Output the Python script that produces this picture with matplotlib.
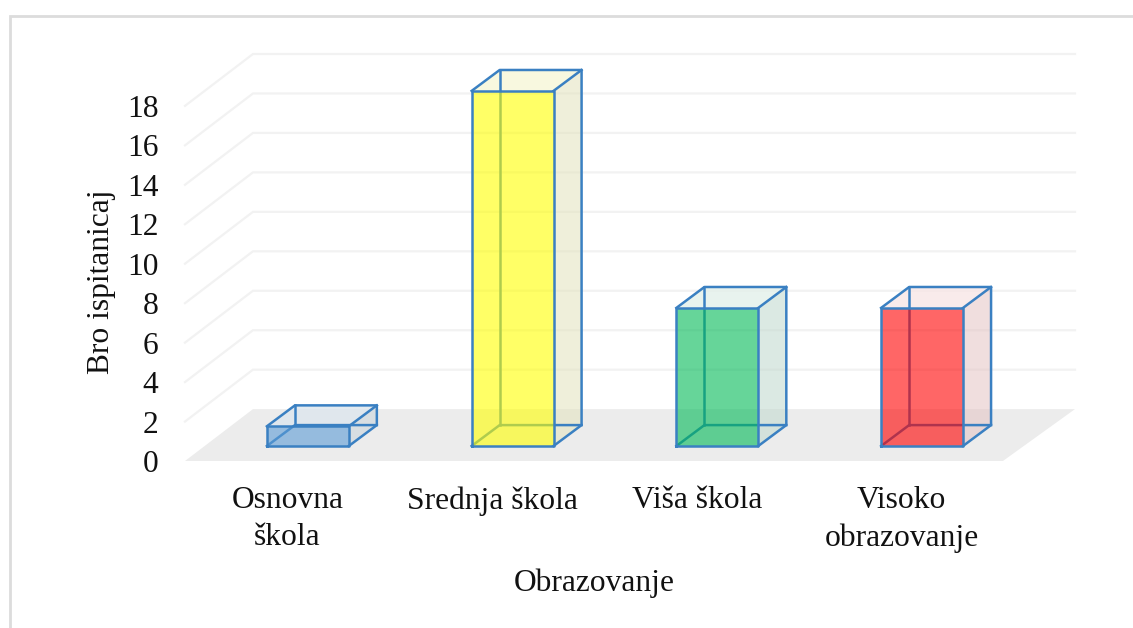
import matplotlib
matplotlib.use("Agg")
import matplotlib.pyplot as plt
from matplotlib.patches import Polygon, Rectangle
import numpy as np

categories = ["Osnovna\nškola", "Srednja škola", "Viša škola", "Visoko\nobrazovanje"]
values = [1, 18, 7, 7]
y_ticks = [0, 2, 4, 6, 8, 10, 12, 14, 16, 18]

bar_colors = ["#5b9bd5", "#ffff00", "#00b956", "#ff0000"]
side_colors = ["#c9d3db", "#e3e3bd", "#bfd8cd", "#e4c3c3"]
top_colors = ["#dde6ee", "#f7f7d8", "#e3f0ea", "#f8e6e6"]
edge = "#3a80c2"

plt.rcParams["font.family"] = ["Liberation Serif", "DejaVu Serif"]

W, H = 1133, 628
fig = plt.figure(figsize=(W / 100, H / 100), dpi=100)

# outer frame, runs off the right and bottom of the image
fig.add_artist(Rectangle((9.5 / W, -0.05), 1.1, 1 + 0.05 - 15.5 / H, transform=fig.transFigure,
                         fill=False, ec="#dcdcdc", lw=2))

# axes box = front-left floor corner to top-right of back wall
ax = fig.add_axes([185 / W, 1 - 461 / H, 890 / W, 407 / H])
floor_front = -0.76
wall_base = 1.87
ax.set_xlim(-0.60, 3.747)
ax.set_ylim(floor_front, wall_base + 18)
ax.patch.set_visible(False)
for s in ax.spines.values():
    s.set_visible(False)

wall_dx = 0.332
right = 3.747
x0 = -0.60

# floor
ax.add_patch(Polygon([(x0, floor_front), (right - wall_dx - 0.02, floor_front),
                      (right, wall_base), (x0 + wall_dx, wall_base)],
                     fc="#ececec", ec="none", zorder=1))
# gridlines on side wall and back wall
for v in y_ticks[1:]:
    ax.plot([x0, x0 + wall_dx, right], [floor_front + v, wall_base + v, wall_base + v],
            color="#f2f2f2", lw=1.6, zorder=1, solid_joinstyle="miter", clip_on=False)

# bars as open boxes
half = 0.2
dx = 0.137
dy = 1.06
lw = 1.8
for i, v in enumerate(values):
    l, r = i - half, i + half
    top_poly = [(l, v), (r, v), (r + dx, v + dy), (l + dx, v + dy)]
    side_poly = [(r, 0), (r + dx, dy), (r + dx, v + dy), (r, v)]
    z = 2 + i
    ax.add_patch(Polygon(top_poly, fc=top_colors[i], ec="none", alpha=0.8, zorder=z))
    ax.add_patch(Polygon(side_poly, fc=side_colors[i], ec="none", alpha=0.55, zorder=z))
    # hidden edges, seen through the front face
    ax.plot([l, l + dx, r + dx], [0, dy, dy], color=edge, lw=lw, zorder=z)
    ax.plot([l + dx, l + dx], [dy, v + dy], color=edge, lw=lw, zorder=z)
    ax.add_patch(Polygon([(l, 0), (r, 0), (r, v), (l, v)], fc=bar_colors[i], ec="none",
                         alpha=0.6, zorder=z + 0.1))
    # visible edges
    ax.plot([l, r, r, l, l], [0, 0, v, v, 0], color=edge, lw=lw, zorder=z + 0.2,
            solid_joinstyle="round")
    ax.plot([r, r + dx, r + dx, l + dx, l], [0, dy, v + dy, v + dy, v], color=edge, lw=lw,
            zorder=z + 0.2, solid_joinstyle="round")
    ax.plot([r, r + dx], [v, v + dy], color=edge, lw=lw, zorder=z + 0.2)

ax.set_yticks(np.array(y_ticks) + floor_front, labels=y_ticks)
ax.set_xticks(np.arange(len(categories)) - 0.1, labels=categories)
ax.tick_params(axis="both", length=0, labelsize=22.7, labelcolor="#111111")
ax.tick_params(axis="y", pad=19)
ax.tick_params(axis="x", pad=18)
for t in ax.get_xticklabels():
    t.set_linespacing(1.36)

fig.text(102 / W, 1 - 282 / H, "Bro ispitanicaj", rotation=90, ha="center", va="center",
         fontsize=22.7, color="#111111")
fig.text(594 / W, 1 - 583 / H, "Obrazovanje", ha="center", va="center", fontsize=22.7, color="#111111")

fig.savefig("out.png", dpi=100)
